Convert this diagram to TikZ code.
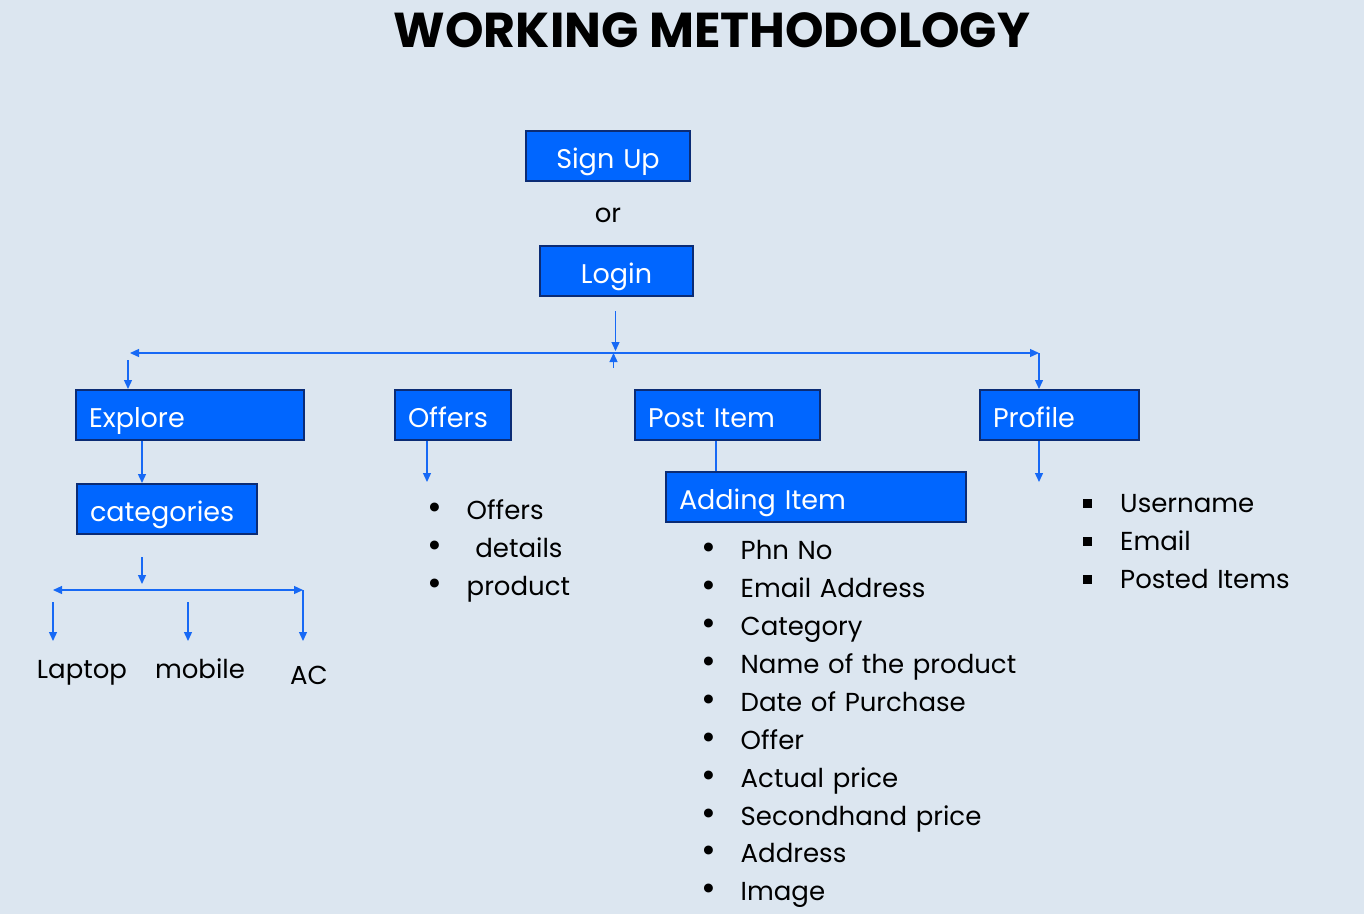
\documentclass[tikz,border=0pt]{standalone}
\usepackage{fontspec}
\setmainfont{Poppins}
\usetikzlibrary{positioning,chains,arrows.meta}
\definecolor{sheet}{HTML}{DCE6F0}
\definecolor{boxfill}{HTML}{0066FF}
\definecolor{boxline}{HTML}{0B2C75}
\definecolor{linkblue}{HTML}{1769F5}
\newcommand{\boxfont}{\fontsize{27}{32}\selectfont}
\newcommand{\listfont}{\fontsize{26}{30}\selectfont}
\newcommand{\titlefont}{\fontsize{49}{52}\selectfont\bfseries}
\newcommand{\itembullet}{\makebox[38.5pt][l]{\hspace{-1pt}{\fontsize{36}{36}\selectfont\textbullet}}}
\newcommand{\itemsquare}{\makebox[37pt][l]{\raisebox{5pt}{\rule{9pt}{9pt}}}}
\tikzset{
	method chart/.style={
		x=1pt,y=1pt,
		node distance=0pt,
		link/.style={
			draw=linkblue,
			line width=1.3pt,
			arrows={-Triangle[length=9pt,width=8pt]}
		},
		twin link/.style={
			link,
			arrows={Triangle[length=9pt,width=8pt]-Triangle[length=9pt,width=8pt]}
		},
		plain link/.style={
			draw=linkblue,
			line width=1.3pt
		}
	},
	menu box/.style={
		rectangle,
		draw=boxline,
		line width=2pt,
		fill=boxfill,
		text=white,
		font=\boxfont,
		inner xsep=13pt,
		inner ysep=0pt,
		minimum height=50pt,
		text height=25pt,text depth=1pt, % push baseline down
		align=left,
		anchor=north west
	},
	list item/.style={
		on chain,
		font=\listfont,
		inner sep=0pt,
		minimum height=37.5pt,
		text width=320pt,
		align=left,
		text height=22pt,text depth=3pt
	},
	leaf label/.style={
		font=\listfont,
		inner sep=0pt,
		text height=22pt,text depth=3pt
	}
}

\begin{document}
\begin{tikzpicture}[method chart]
	\path[use as bounding box,fill=sheet] (0,0) rectangle (1364,-914);

	\node[font=\titlefont,inner sep=0pt,text depth=0pt] (title) at (712,-30) {WORKING METHODOLOGY};

	% entry
	\node[menu box,text width=138pt,align=center] (signup) at (525,-130) {Sign Up};
	\node[leaf label] (or) at (608,-213) {or};
	\node[menu box,text width=127pt,align=center] (login) at (539,-245) {Login};

	% main menu
	\node[menu box,text width=202pt] (explore) at (75,-389) {Explore};
	\node[menu box,text width=90pt] (offers) at (394,-389) {Offers};
	\node[menu box,text width=159pt] (post) at (634,-389) {Post Item};
	\node[menu box,text width=133pt] (profile) at (979,-389) {Profile};
	\node[menu box,text width=154pt] (categories) at (76,-483) {categories};
	\node[menu box,text width=274pt] (adding) at (665,-471) {Adding Item};

	\node[leaf label] (laptop) at (82,-669) {Laptop};
	\node[leaf label] (mobile) at (200,-669) {mobile};
	\node[leaf label] (ac) at (309,-675) {AC};

	\begin{scope}[start chain=offerlist going below]
		\node[list item,anchor=north west] at (428,-491.25) {\itembullet Offers};
		\node[list item] {\itembullet\ details};
		\node[list item] {\itembullet product};
	\end{scope}

	\begin{scope}[start chain=addlist going below]
		\node[list item,anchor=north west] at (702,-531.25) {\itembullet Phn No};
		\node[list item] {\itembullet Email Address};
		\node[list item] {\itembullet Category};
		\node[list item] {\itembullet Name of the product};
		\node[list item] {\itembullet Date of Purchase};
		\node[list item] {\itembullet Offer};
		\node[list item] {\itembullet Actual price};
		\node[list item] {\itembullet Secondhand price};
		\node[list item] {\itembullet Address};
		\node[list item] {\itembullet Image};
	\end{scope}

	\begin{scope}[start chain=profilelist going below]
		\node[list item,anchor=north west] at (1083,-484.25) {\itemsquare Username};
		\node[list item] {\itemsquare Email};
		\node[list item] {\itemsquare Posted Items};
	\end{scope}

	% connectors
	\coordinate (hub) at (615.5,-351);
	\coordinate (login drop) at (615.5,-311);
	\coordinate (hub rise) at (613.5,-368);
	\coordinate (west end) at (130,-353);
	\coordinate (east end) at (1039,-353);
	\draw[link] (login drop) -- (hub);
	\draw[link] (hub rise) -- (hub rise |- west end);
	\draw[twin link] (west end) -- (east end);
	\draw[link] ([xshift=-2pt,yshift=-7pt]west end) -- ([xshift=-2pt]west end |- explore.north);
	\draw[link] (east end) -- (east end |- profile.north);

	\coordinate (cat stem) at (142,-557);
	\coordinate (cat bar tip) at (142,-584);
	\coordinate (cat west) at (53,-590);
	\coordinate (cat east) at (303,-590);
	\coordinate (laptop tip) at (53,-641);
	\coordinate (mobile tip) at (188,-641);
	\coordinate (ac tip) at (303,-641);
	\draw[link] (cat stem |- explore.south) -- (cat stem |- categories.north);
	\draw[link] (cat stem) -- (cat bar tip);
	\draw[twin link] (cat west) -- (cat east);
	\draw[link] ([yshift=-12pt]cat west) -- (laptop tip);
	\draw[link] ([yshift=39pt]mobile tip) -- (mobile tip);
	\draw[link] (cat east) -- (ac tip);

	\coordinate (offers tip) at (427,-482);
	\coordinate (adding stem) at (716,-450);
	\coordinate (profile tip) at (1039,-482);
	\draw[link] (offers tip |- offers.south) -- (offers tip);
	\draw[plain link] (adding stem |- post.south) -- (adding stem |- adding.north);
	\draw[link] (profile tip |- profile.south) -- (profile tip);
\end{tikzpicture}
\end{document}
